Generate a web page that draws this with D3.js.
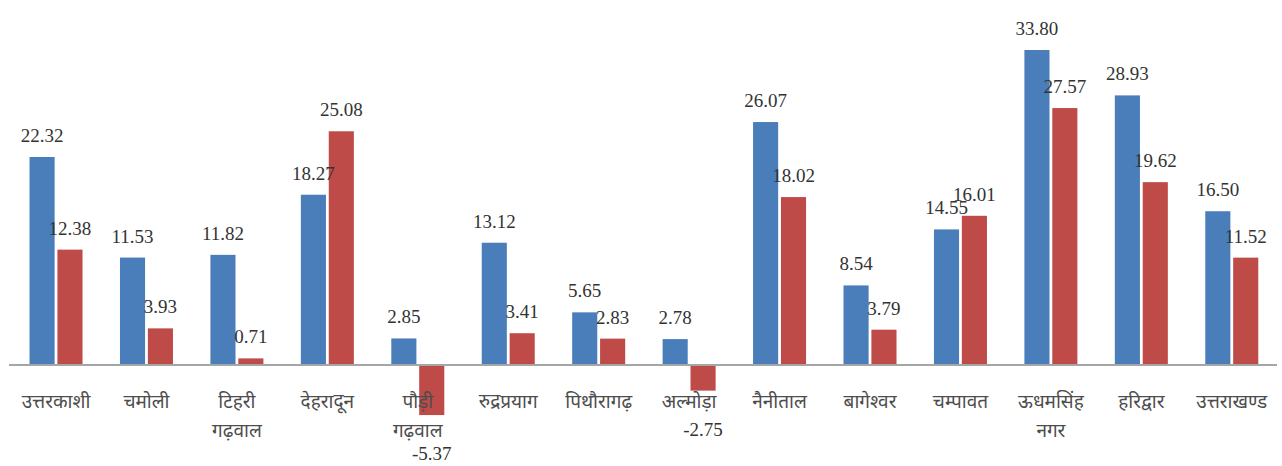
<!DOCTYPE html>
<html>
<head>
<meta charset="utf-8">
<script src="https://cdn.jsdelivr.net/npm/d3@7"></script>
<style>
html,body{margin:0;padding:0;background:#fff;}
svg{display:block;}
.val{font-family:"Liberation Serif","DejaVu Serif",serif;}
.cat{font-family:"Noto Sans","Noto Sans Devanagari",sans-serif;}
</style>
</head>
<body>
<svg id="chart" width="1282" height="466"></svg>
<script>
const categories = [
  ["उत्तरकाशी"], ["चमोली"], ["टिहरी", "गढ़वाल"], ["देहरादून"], ["पौड़ी", "गढ़वाल"],
  ["रुद्रप्रयाग"], ["पिथौरागढ़"], ["अल्मोड़ा"], ["नैनीताल"], ["बागेश्वर"],
  ["चम्पावत"], ["ऊधमसिंह", "नगर"], ["हरिद्वार"], ["उत्तराखण्ड"]
];
const seriesA = [22.32, 11.53, 11.82, 18.27, 2.85, 13.12, 5.65, 2.78, 26.07, 8.54, 14.55, 33.80, 28.93, 16.50];
const seriesB = [12.38, 3.93, 0.71, 25.08, -5.37, 3.41, 2.83, -2.75, 18.02, 3.79, 16.01, 27.57, 19.62, 11.52];
const seriesNames = ["A", "B"];
const seriesColors = ["#4a7ebb", "#be4b48"];

const svg = d3.select("#chart");
const names = categories.map(c => c.join(" "));
const x0 = d3.scaleBand().domain(names).range([10.8, 1277]).padding(0);
const x1 = d3.scaleBand().domain(seriesNames).range([-26.5, 26.5]).paddingInner(0.1);
const y = d3.scaleLinear().domain([-10, 36]).range([365 + 93.2, 365 - 335.5]);

const data = [];
names.forEach((n, i) => {
  data.push({cat: n, s: "A", v: seriesA[i], color: seriesColors[0]});
  data.push({cat: n, s: "B", v: seriesB[i], color: seriesColors[1]});
});
const cx = d => x0(d.cat) + x0.bandwidth() / 2 + x1(d.s);

svg.append("g").selectAll("rect").data(data).join("rect")
  .attr("x", cx)
  .attr("width", x1.bandwidth())
  .attr("y", d => Math.min(y(d.v), y(0)))
  .attr("height", d => Math.abs(y(d.v) - y(0)))
  .attr("fill", d => d.color);

// axis line
svg.append("line")
  .attr("x1", 9).attr("x2", 1277)
  .attr("y1", y(0)).attr("y2", y(0))
  .attr("stroke", "#a6a6a6").attr("stroke-width", 2);

// value labels
svg.append("g").selectAll("text").data(data).join("text")
  .attr("class", "val")
  .attr("x", d => cx(d) + x1.bandwidth() / 2)
  .attr("y", d => d.v >= 0 ? y(d.v) - 15 : y(d.v) + 45)
  .attr("text-anchor", "middle")
  .attr("font-size", 19)
  .attr("fill", "#333")
  .text(d => d.v.toFixed(2));

// category labels
const cl = svg.append("g").selectAll("text").data(categories).join("text")
  .attr("class", "cat")
  .attr("x", (d, i) => x0(names[i]) + x0.bandwidth() / 2)
  .attr("y", 408)
  .attr("text-anchor", "middle")
  .attr("font-size", 19)
  .attr("fill", "#4d4d4d");
cl.each(function(d) {
  const t = d3.select(this);
  d.forEach((line, k) => {
    t.append("tspan")
      .attr("x", t.attr("x"))
      .attr("dy", k === 0 ? 0 : 29)
      .text(line);
  });
});
</script>
</body>
</html>
